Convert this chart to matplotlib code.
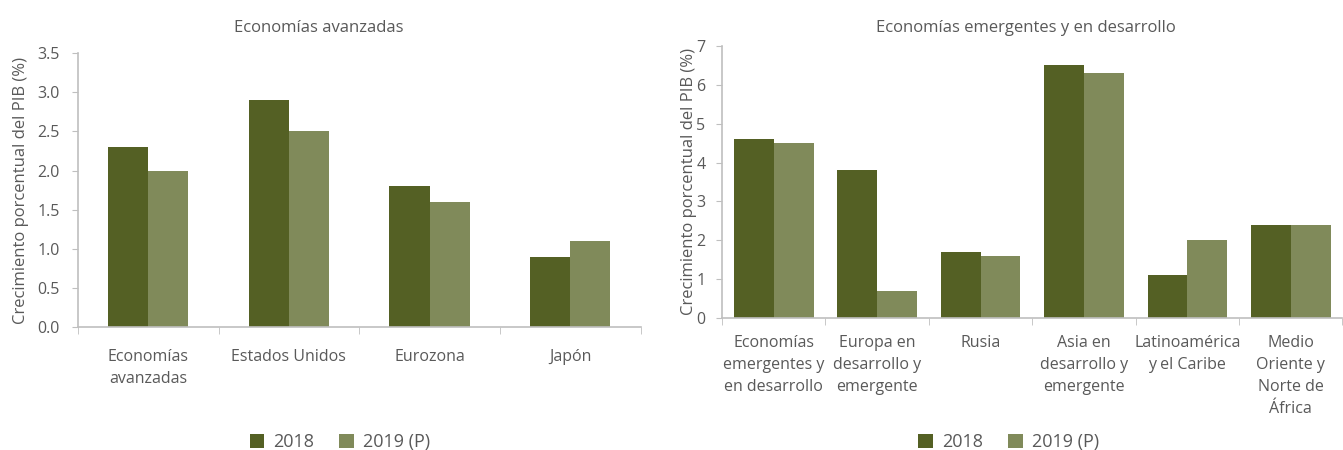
import matplotlib.pyplot as plt
from matplotlib.ticker import FormatStrFormatter
import numpy as np

plt.rcParams['font.family'] = ['Open Sans', 'DejaVu Sans']

# datos
adv_labels = ["Economías\navanzadas", "Estados Unidos", "Eurozona", "Japón"]
adv_2018 = [2.3, 2.9, 1.8, 0.9]
adv_2019 = [2.0, 2.5, 1.6, 1.1]

eme_labels = ["Economías\nemergentes y\nen desarrollo", "Europa en\ndesarrollo y\nemergente",
              "Rusia", "Asia en\ndesarrollo y\nemergente", "Latinoamérica\ny el Caribe",
              "Medio\nOriente y\nNorte de\nÁfrica"]
eme_2018 = [4.6, 3.8, 1.7, 6.5, 1.1, 2.4]
eme_2019 = [4.5, 0.7, 1.6, 6.3, 2.0, 2.4]

series = ["2018", "2019 (P)"]
colors = ["#546024", "#808A5A"]
text_color = "#595959"
axis_color = "#BFBFBF"

fig = plt.figure(figsize=(13.43, 4.5), dpi=100)
ax1 = fig.add_axes([0.058, 0.273, 0.419, 0.609])
ax2 = fig.add_axes([0.5376, 0.2933, 0.4620, 0.6047])


def draw(ax, labels, v1, v2, ymax, step, fmt, bw, xpad, ypad):
    x = np.arange(len(labels))
    ax.bar(x - bw / 2, v1, bw, color=colors[0], label=series[0])
    ax.bar(x + bw / 2, v2, bw, color=colors[1], label=series[1])
    ax.set_xlim(-0.5, len(labels) - 0.5)
    ax.set_ylim(0, ymax)
    ax.set_yticks(np.arange(0, ymax + step / 2, step))
    ax.yaxis.set_major_formatter(FormatStrFormatter(fmt))
    ax.set_xticks(x)
    ax.set_xticklabels(labels, color=text_color, fontsize=11.5, linespacing=1.5)
    ax.set_xticks(np.arange(-0.5, len(labels)), minor=True)
    ax.tick_params(axis='x', which='major', length=0, pad=xpad)
    ax.tick_params(axis='x', which='minor', length=5, color=axis_color, direction='out')
    ax.tick_params(axis='y', length=4, color=axis_color, labelsize=11.5,
                   labelcolor=text_color, pad=ypad)
    for s in ['top', 'right']:
        ax.spines[s].set_visible(False)
    for s in ['left', 'bottom']:
        ax.spines[s].set_color(axis_color)
        ax.spines[s].set_linewidth(1.2)
    ax.set_ylabel("Crecimiento porcentual del PIB (%)", color=text_color, fontsize=12)


draw(ax1, adv_labels, adv_2018, adv_2019, 3.5, 0.5, '%.1f', 0.285, 16, 9)
draw(ax2, eme_labels, eme_2018, eme_2019, 7, 1, '%d', 0.385, 12, 8)
ax1.yaxis.set_label_coords(-0.087, 0.5)
ax2.yaxis.set_label_coords(-0.040, 0.5)

fig.text(0.2375, 0.938, "Economías avanzadas", ha='center', va='center',
         color=text_color, fontsize=12)
fig.text(0.764, 0.938, "Economías emergentes y en desarrollo", ha='center', va='center',
         color=text_color, fontsize=12)

leg_kw = dict(ncol=2, frameon=False, fontsize=13, labelcolor=text_color,
              handlelength=0.8, handleheight=0.8, handletextpad=0.5, columnspacing=1.4,
              loc='center')
h, l = ax1.get_legend_handles_labels()
fig.legend(h, l, bbox_to_anchor=(0.253, 0.018), **leg_kw)
fig.legend(h, l, bbox_to_anchor=(0.751, 0.018), **leg_kw)

fig.savefig("out.png", dpi=100)
